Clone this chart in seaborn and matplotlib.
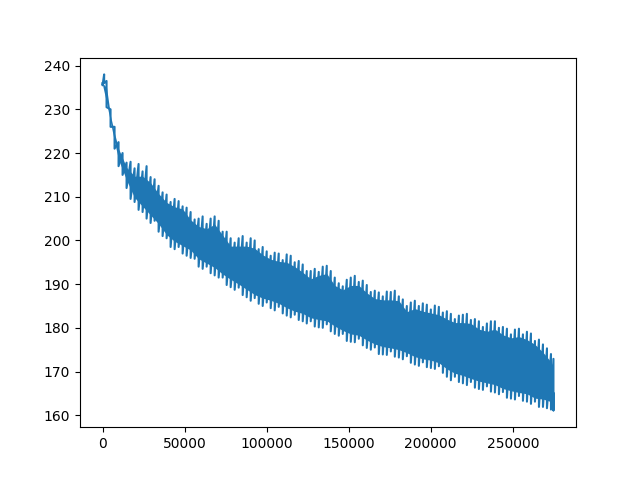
import matplotlib
matplotlib.use('Agg')
import matplotlib.pyplot as plt
import pandas as pd
import seaborn as sns

steps = [0, 975, 2440, 4880, 7320, 9760, 12200, 14640, 17080, 19520,
         21960, 24400, 26840, 29280, 31720, 34160, 36600, 39040, 41480, 43920,
         46360, 48800, 51240, 53680, 56120, 58560, 61000, 63440, 65880, 68320,
         70760, 73200, 75640, 78080, 80520, 82960, 85400, 87840, 90280, 92720,
         95160, 97600, 100040, 102480, 104920, 107360, 109800, 112240, 114680, 117120,
         119560, 122000, 124440, 126880, 129320, 131760, 134200, 136640, 139080, 141520,
         143960, 146400, 148840, 151280, 153720, 156160, 158600, 161040, 163480, 165920,
         168360, 170800, 173240, 175680, 178120, 180560, 183000, 185440, 187880, 190320,
         192760, 195200, 197640, 200080, 202520, 204960, 207400, 209840, 212280, 214720,
         217160, 219600, 222040, 224480, 226920, 229360, 231800, 234240, 236680, 239120,
         241560, 244000, 246440, 248880, 251320, 253760, 256200, 258640, 261080, 263520,
         265960, 268400, 270840, 273280, 274800]
# top of each swing
peaks = [236.0, 238.0, 236.5, 230.0, 226.0, 222.5, 220.0, 217.8, 218.0, 216.5,
         217.5, 215.8, 217.0, 214.5, 214.0, 212.5, 211.0, 210.5, 208.8, 209.5,
         209.0, 207.8, 207.5, 206.5, 204.8, 205.0, 205.5, 203.8, 205.0, 205.5,
         204.5, 202.0, 202.0, 200.5, 199.5, 200.5, 201.0, 199.5, 200.5, 200.0,
         198.0, 198.5, 197.5, 196.5, 197.2, 197.0, 195.5, 196.8, 196.5, 195.0,
         195.3, 194.5, 193.0, 193.0, 193.5, 192.8, 194.0, 194.2, 193.0, 191.5,
         190.2, 189.5, 191.0, 191.5, 191.9, 190.5, 190.8, 189.8, 188.2, 188.5,
         188.1, 187.2, 188.3, 188.2, 188.5, 187.2, 186.5, 185.0, 185.8, 186.2,
         185.0, 185.6, 185.3, 184.2, 185.1, 184.8, 183.5, 183.8, 183.2, 182.0,
         182.8, 183.0, 183.2, 181.8, 182.0, 181.5, 180.2, 181.0, 181.5, 181.5,
         180.0, 180.2, 179.8, 178.5, 179.6, 179.8, 178.5, 179.1, 178.7, 177.0,
         177.3, 176.2, 175.3, 174.0, 172.9]
# bottom of each swing
troughs = [235.5, 236.0, 230.5, 226.0, 221.0, 217.0, 215.0, 212.0, 209.5, 208.8,
           207.0, 206.5, 205.0, 204.0, 204.5, 202.0, 201.0, 200.5, 198.5, 198.0,
           198.5, 197.0, 196.5, 196.0, 195.8, 194.0, 193.5, 194.0, 192.5, 192.0,
           191.5, 191.5, 189.8, 189.3, 188.7, 189.2, 187.5, 187.0, 186.2, 186.8,
           185.5, 185.0, 185.8, 184.5, 184.0, 184.8, 183.3, 182.8, 182.4, 183.0,
           181.8, 181.5, 181.0, 181.5, 180.3, 180.1, 180.0, 180.8, 179.2, 178.6,
           178.2, 178.6, 177.0, 176.8, 176.7, 177.5, 176.0, 175.4, 175.0, 175.5,
           174.0, 173.9, 173.8, 174.6, 173.4, 173.2, 172.8, 173.5, 172.0, 171.6,
           171.3, 172.1, 171.0, 170.8, 170.6, 171.2, 169.7, 168.8, 168.0, 168.8,
           167.6, 167.3, 166.9, 167.6, 166.3, 166.0, 165.8, 166.6, 165.4, 165.2,
           164.8, 165.3, 164.0, 163.8, 163.6, 164.4, 163.3, 163.1, 162.6, 163.1,
           161.9, 161.9, 161.6, 161.3, 161.1]
last_value = 165.0

# dense core of the oscillation, where the line overlaps itself
core_steps = [0, 2440, 4880, 7320, 9760, 14640, 19520, 24400, 29280, 34160,
              39040, 43920, 48800, 53680, 58560, 63440, 68320, 73200, 78080, 82960,
              87840, 92720, 97600, 102480, 107360, 112240, 117120, 122000, 126880, 131760,
              136640, 141520, 146400, 151280, 156160, 161040, 165920, 170800, 175680, 180560,
              185440, 190320, 195200, 200080, 204960, 209840, 214720, 219600, 224480, 229360,
              234240, 239120, 244000, 248880, 253760, 258640, 263520, 268400, 273280, 274800]
core_top = [236.0, 235.0, 228.5, 224.5, 221.0, 216.7, 214.7, 214.7, 213.2, 210.7,
            208.7, 207.7, 207.2, 204.7, 203.2, 202.7, 203.7, 201.2, 198.7, 198.7,
            198.7, 198.2, 196.7, 195.7, 195.2, 195.0, 194.0, 192.7, 191.2, 192.0,
            192.4, 189.7, 188.7, 189.7, 189.7, 188.0, 186.7, 186.4, 186.4, 186.2,
            183.7, 184.4, 183.8, 183.4, 183.0, 182.0, 181.2, 181.2, 181.0, 179.7,
            179.2, 179.7, 178.4, 177.7, 178.0, 177.3, 176.2, 174.4, 172.2, 171.1]
core_bottom = [235.6, 231.5, 227.0, 222.5, 218.5, 213.8, 209.8, 207.8, 205.8, 203.8,
               201.3, 199.8, 198.8, 197.8, 195.8, 194.8, 193.8, 192.3, 191.1, 190.0,
               188.8, 187.6, 186.8, 186.3, 185.6, 184.6, 183.8, 183.3, 182.3, 181.9,
               181.6, 180.4, 179.4, 178.6, 178.3, 177.2, 176.3, 175.7, 175.4, 175.0,
               174.3, 173.4, 172.9, 172.6, 172.0, 170.6, 169.6, 169.1, 168.4, 167.8,
               167.4, 167.0, 166.1, 165.6, 165.2, 164.9, 163.9, 163.7, 163.1, 162.9]

xs, ys = [], []
for s, hi, lo in zip(steps, peaks, troughs):
    xs += [s, s]
    ys += [hi, lo]
xs.append(steps[-1])
ys.append(last_value)
df = pd.DataFrame({'step': xs, 'value': ys})

fig, ax = plt.subplots(figsize=(6.4, 4.8), dpi=100)
ax.fill_between(core_steps, core_bottom, core_top, color='#1f77b4', linewidth=0)
sns.lineplot(data=df, x='step', y='value', estimator=None, sort=False,
             errorbar=None, color='#1f77b4', linewidth=1.5, ax=ax)
ax.set_xlabel('')
ax.set_ylabel('')
ax.set_yticks([160, 170, 180, 190, 200, 210, 220, 230, 240])
plt.savefig('out.png', dpi=100)
